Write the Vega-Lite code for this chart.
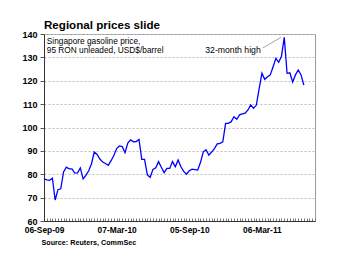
{
  "$schema": "https://vega.github.io/schema/vega-lite/v6.json",
  "width": 271,
  "height": 187,
  "autosize": {"type": "none"},
  "padding": {"left": 44, "top": 34, "right": 38, "bottom": 36},
  "background": "white",
  "title": {
    "text": "Regional prices slide",
    "anchor": "start",
    "frame": "group",
    "font": "Liberation Sans",
    "fontSize": 11.6,
    "fontWeight": "bold",
    "color": "black",
    "offset": -2
  },
  "config": {
    "font": "Liberation Sans",
    "view": {"stroke": "#9a9a9a", "strokeWidth": 1}
  },
  "datasets": {
    "prices": [
      {"date": "2009-09-06", "price": 78.0},
      {"date": "2009-09-13", "price": 77.6},
      {"date": "2009-09-20", "price": 77.4},
      {"date": "2009-09-27", "price": 78.3},
      {"date": "2009-10-04", "price": 69.0},
      {"date": "2009-10-11", "price": 73.4},
      {"date": "2009-10-18", "price": 73.8},
      {"date": "2009-10-25", "price": 81.0},
      {"date": "2009-11-01", "price": 83.0},
      {"date": "2009-11-08", "price": 82.3},
      {"date": "2009-11-15", "price": 82.3},
      {"date": "2009-11-22", "price": 80.5},
      {"date": "2009-11-29", "price": 80.6},
      {"date": "2009-12-06", "price": 82.7},
      {"date": "2009-12-13", "price": 78.0},
      {"date": "2009-12-20", "price": 79.5},
      {"date": "2009-12-27", "price": 81.5},
      {"date": "2010-01-03", "price": 84.5},
      {"date": "2010-01-10", "price": 89.5},
      {"date": "2010-01-17", "price": 88.5},
      {"date": "2010-01-24", "price": 86.5},
      {"date": "2010-01-31", "price": 85.2},
      {"date": "2010-02-07", "price": 84.6},
      {"date": "2010-02-14", "price": 83.8},
      {"date": "2010-02-21", "price": 85.8},
      {"date": "2010-02-28", "price": 88.0},
      {"date": "2010-03-07", "price": 91.0},
      {"date": "2010-03-14", "price": 92.1},
      {"date": "2010-03-21", "price": 91.8},
      {"date": "2010-03-28", "price": 89.2},
      {"date": "2010-04-04", "price": 93.3},
      {"date": "2010-04-11", "price": 94.7},
      {"date": "2010-04-18", "price": 93.9},
      {"date": "2010-04-25", "price": 94.0},
      {"date": "2010-05-02", "price": 94.9},
      {"date": "2010-05-09", "price": 86.4},
      {"date": "2010-05-16", "price": 86.4},
      {"date": "2010-05-23", "price": 79.7},
      {"date": "2010-05-30", "price": 78.7},
      {"date": "2010-06-06", "price": 82.1},
      {"date": "2010-06-13", "price": 82.8},
      {"date": "2010-06-20", "price": 85.4},
      {"date": "2010-06-27", "price": 83.0},
      {"date": "2010-07-04", "price": 80.7},
      {"date": "2010-07-11", "price": 82.5},
      {"date": "2010-07-18", "price": 82.5},
      {"date": "2010-07-25", "price": 85.4},
      {"date": "2010-08-01", "price": 83.2},
      {"date": "2010-08-08", "price": 86.1},
      {"date": "2010-08-15", "price": 83.2},
      {"date": "2010-08-22", "price": 81.2},
      {"date": "2010-08-29", "price": 80.0},
      {"date": "2010-09-05", "price": 81.5},
      {"date": "2010-09-12", "price": 82.2},
      {"date": "2010-09-19", "price": 82.0},
      {"date": "2010-09-26", "price": 81.8},
      {"date": "2010-10-03", "price": 85.0},
      {"date": "2010-10-10", "price": 89.6},
      {"date": "2010-10-17", "price": 90.5},
      {"date": "2010-10-24", "price": 88.2},
      {"date": "2010-10-31", "price": 89.5},
      {"date": "2010-11-07", "price": 91.0},
      {"date": "2010-11-14", "price": 93.0},
      {"date": "2010-11-21", "price": 93.2},
      {"date": "2010-11-28", "price": 93.9},
      {"date": "2010-12-05", "price": 101.8},
      {"date": "2010-12-12", "price": 101.8},
      {"date": "2010-12-19", "price": 102.5},
      {"date": "2010-12-26", "price": 104.6},
      {"date": "2011-01-02", "price": 103.5},
      {"date": "2011-01-09", "price": 105.4},
      {"date": "2011-01-16", "price": 105.8},
      {"date": "2011-01-23", "price": 106.1},
      {"date": "2011-01-30", "price": 107.5},
      {"date": "2011-02-06", "price": 109.7},
      {"date": "2011-02-13", "price": 108.2},
      {"date": "2011-02-20", "price": 109.6},
      {"date": "2011-02-27", "price": 116.5},
      {"date": "2011-03-06", "price": 123.2},
      {"date": "2011-03-13", "price": 120.6},
      {"date": "2011-03-20", "price": 121.7},
      {"date": "2011-03-27", "price": 122.5},
      {"date": "2011-04-03", "price": 126.0},
      {"date": "2011-04-10", "price": 129.6},
      {"date": "2011-04-17", "price": 127.9},
      {"date": "2011-04-24", "price": 130.5},
      {"date": "2011-05-01", "price": 138.6},
      {"date": "2011-05-08", "price": 123.2},
      {"date": "2011-05-15", "price": 123.4},
      {"date": "2011-05-22", "price": 119.5},
      {"date": "2011-05-29", "price": 122.5},
      {"date": "2011-06-05", "price": 124.6},
      {"date": "2011-06-12", "price": 122.5},
      {"date": "2011-06-19", "price": 118.2}
    ],
    "notes": [
      {"date": "2009-09-13", "price": 136.7, "label": "Singapore gasoline price,"},
      {"date": "2009-09-13", "price": 132.9, "label": "95 RON unleaded, USD$/barrel"}
    ],
    "callout": [
      {"date": "2010-10-15", "price": 133.3, "label": "32-month high"}
    ],
    "pointer": [
      {"date": "2011-03-08", "price": 134.0, "date2": "2011-04-23", "price2": 138.6}
    ]
  },
  "encoding": {
    "x": {
      "field": "date",
      "type": "temporal",
      "scale": {
        "type": "utc",
        "domain": [
          {"year": 2009, "month": 9, "date": 6, "utc": true},
          {"year": 2011, "month": 7, "date": 17, "utc": true}
        ]
      },
      "axis": {
        "tickCount": {"interval": "week", "step": 1},
        "labelExpr": "round((datum.value - 1252195200000) / 604800000) % 26 == 0 ? utcFormat(datum.value, '%d-%b-%y') : ''",
        "labelOverlap": false,
        "labelBound": false,
        "labelFlush": false,
        "grid": false,
        "tickSize": -3,
        "tickColor": "#777777",
        "domainColor": "#333333",
        "labelFont": "Liberation Sans",
        "labelFontSize": 8.4,
        "labelFontWeight": "bold",
        "labelColor": "black",
        "labelPadding": 7.5,
        "title": "Source: Reuters, CommSec",
        "titleX": -3,
        "titleY": 21,
        "titleAlign": "left",
        "titleBaseline": "middle",
        "titleFont": "Liberation Sans",
        "titleFontSize": 7.2,
        "titleFontWeight": "bold",
        "titleColor": "black"
      }
    },
    "y": {
      "field": "price",
      "type": "quantitative",
      "scale": {"domain": [60, 140], "nice": false, "zero": false},
      "axis": {
        "values": [60, 70, 80, 90, 100, 110, 120, 130, 140],
        "tickCount": 9,
        "labelOverlap": false,
        "labelBound": false,
        "labelFlush": false,
        "grid": true,
        "gridDash": [2, 2],
        "gridColor": "#bdbdbd",
        "tickSize": 4,
        "tickColor": "#555555",
        "domainColor": "#333333",
        "labelFont": "Liberation Sans",
        "labelFontSize": 9,
        "labelFontWeight": "bold",
        "labelColor": "black",
        "labelPadding": 3,
        "title": null
      }
    }
  },
  "layer": [
    {
      "data": {"name": "prices"},
      "mark": {"type": "line", "color": "#0000ff", "strokeWidth": 1.3}
    },
    {
      "data": {"name": "pointer"},
      "mark": {"type": "rule", "color": "#8a8a8a", "strokeWidth": 0.8},
      "encoding": {
        "x2": {"field": "date2"},
        "y2": {"field": "price2"}
      }
    },
    {
      "data": {"name": "notes"},
      "mark": {"type": "text", "align": "left", "baseline": "middle", "font": "Liberation Sans", "fontSize": 8.3, "color": "black"},
      "encoding": {
        "text": {"field": "label"}
      }
    },
    {
      "data": {"name": "callout"},
      "mark": {"type": "text", "align": "left", "baseline": "middle", "font": "Liberation Sans", "fontSize": 8.7, "color": "black"},
      "encoding": {
        "text": {"field": "label"}
      }
    }
  ]
}
